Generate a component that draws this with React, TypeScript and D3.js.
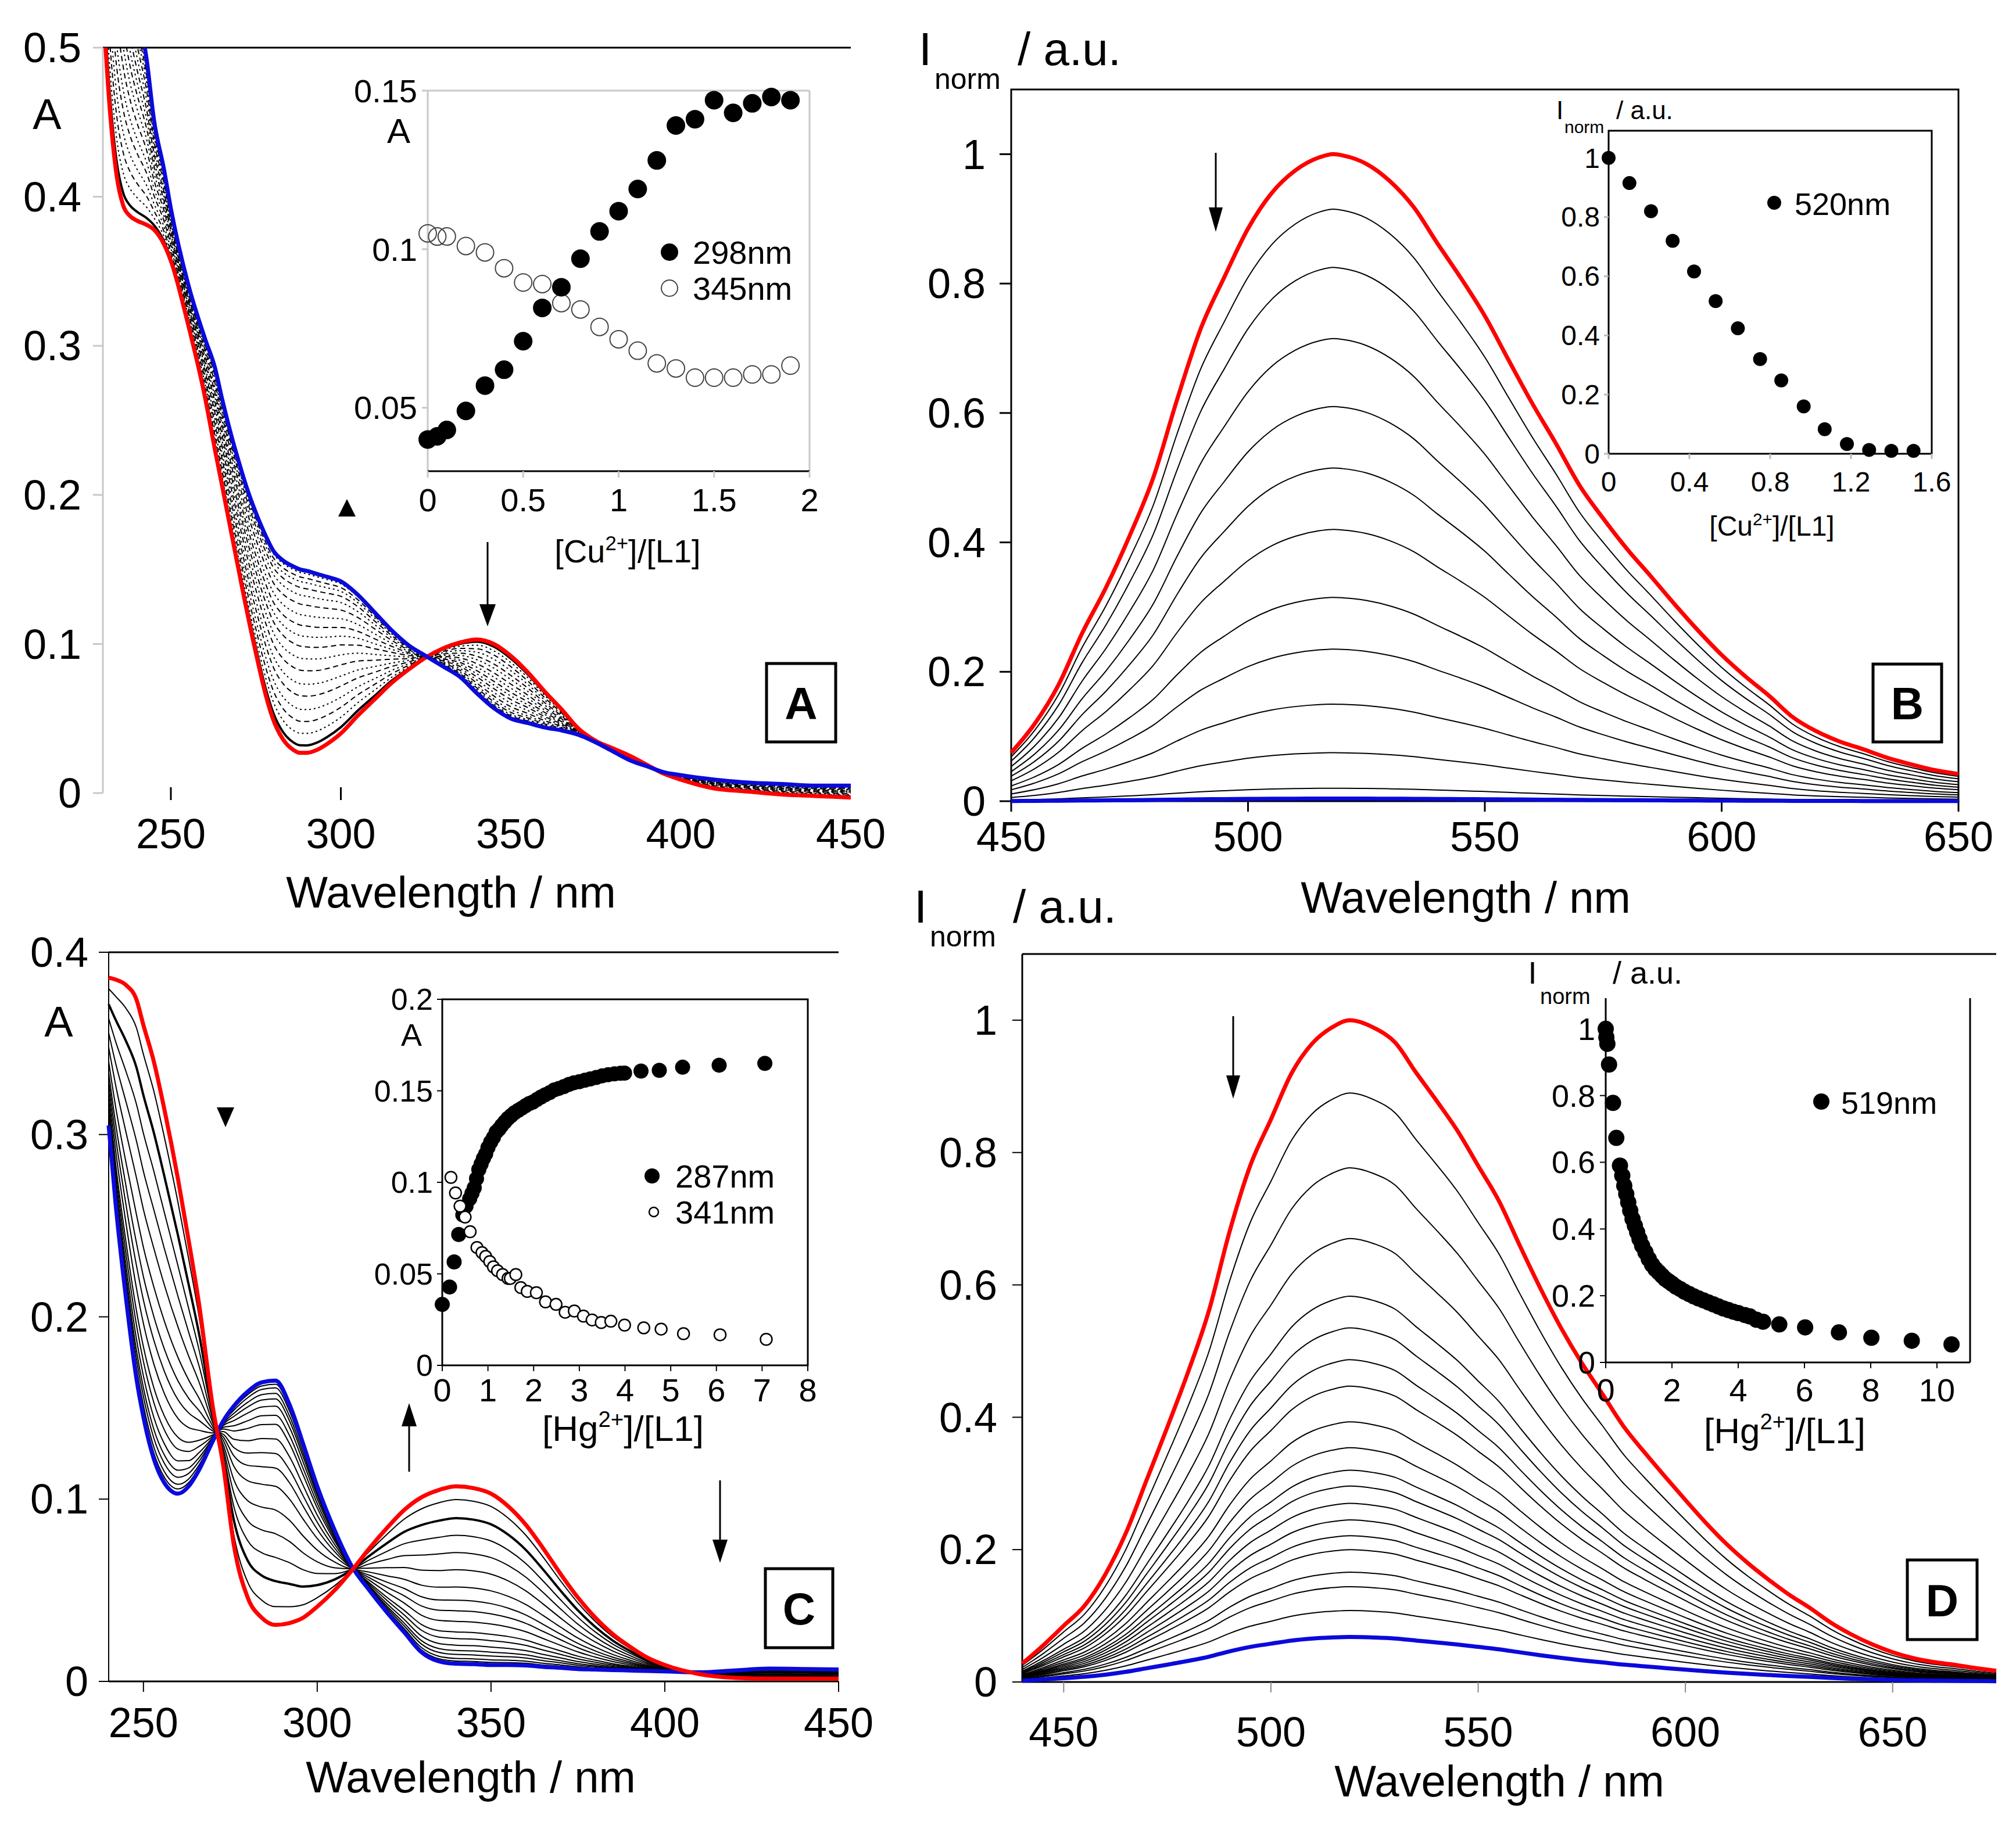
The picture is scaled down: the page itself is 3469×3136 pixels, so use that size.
import React from "react";
import * as d3 from "d3";

const FONT = '"Liberation Sans", Arial, Helvetica, sans-serif';

// ---------------- Panel A : absorbance, Cu2+ ----------------
const A_WL = [230, 232, 234, 236, 238, 240, 243, 245, 248, 250, 255, 260, 263, 265, 268, 270, 272, 275, 278, 280, 283, 286, 288, 290, 293, 296, 300, 305, 310, 315, 320, 325, 330, 335, 340, 345, 350, 355, 360, 365, 370, 375, 380, 385, 390, 395, 400, 410, 420, 430, 440, 450];
const A_RED = [0.53, 0.46, 0.415, 0.394, 0.387, 0.384, 0.381, 0.378, 0.368, 0.357, 0.315, 0.266, 0.23, 0.207, 0.172, 0.149, 0.126, 0.094, 0.065, 0.05, 0.036, 0.029, 0.027, 0.027, 0.029, 0.033, 0.04, 0.052, 0.063, 0.074, 0.083, 0.091, 0.097, 0.101, 0.103, 0.1, 0.092, 0.081, 0.068, 0.056, 0.043, 0.035, 0.03, 0.025, 0.019, 0.013, 0.009, 0.003, 0.001, -0.001, -0.002, -0.003];
const A_BLUE = [0.8, 0.72, 0.65, 0.6, 0.56, 0.53, 0.49, 0.452, 0.418, 0.392, 0.342, 0.305, 0.285, 0.265, 0.238, 0.222, 0.207, 0.188, 0.172, 0.163, 0.156, 0.152, 0.15, 0.149, 0.147, 0.145, 0.142, 0.133, 0.121, 0.109, 0.099, 0.092, 0.085, 0.078, 0.067, 0.057, 0.05, 0.047, 0.044, 0.042, 0.039, 0.034, 0.028, 0.022, 0.018, 0.014, 0.012, 0.009, 0.007, 0.006, 0.005, 0.005];
// absorbance of every recorded spectrum read at 290 nm (first = red, last = blue)
const A_AT290 = [0.027, 0.032, 0.04, 0.048, 0.056, 0.065, 0.073, 0.082, 0.09, 0.098, 0.105, 0.112, 0.119, 0.126, 0.132, 0.137, 0.141, 0.144, 0.147, 0.149];
const A_XTICKS = [250, 300, 350, 400, 450];
const A_YTICKS = [0, 0.1, 0.2, 0.3, 0.4, 0.5];
const A_YLABELS = ["0", "0.1", "0.2", "0.3", "0.4", "0.5"];

const IA_X = [0, 0.05, 0.1, 0.2, 0.3, 0.4, 0.5, 0.6, 0.7, 0.8, 0.9, 1.0, 1.1, 1.2, 1.3, 1.4, 1.5, 1.6, 1.7, 1.8, 1.9];
const IA_298 = [0.04, 0.041, 0.043, 0.049, 0.057, 0.062, 0.071, 0.0815, 0.088, 0.097, 0.1056, 0.112, 0.119, 0.128, 0.139, 0.141, 0.147, 0.143, 0.146, 0.148, 0.147];
const IA_345 = [0.105, 0.104, 0.104, 0.101, 0.099, 0.094, 0.0895, 0.089, 0.083, 0.081, 0.0755, 0.0716, 0.068, 0.064, 0.0624, 0.0595, 0.0595, 0.0595, 0.0605, 0.0605, 0.0633];
const IA_XTICKS = [0, 0.5, 1, 1.5, 2];
const IA_XLABELS = ["0", "0.5", "1", "1.5", "2"];
const IA_YTICKS = [0.05, 0.1, 0.15];
const IA_YLABELS = ["0.05", "0.1", "0.15"];

// ---------------- Panel B : emission, Cu2+ ----------------
const B_WL = [450, 455, 460, 465, 470, 475, 480, 485, 490, 495, 500, 505, 510, 515, 518, 520, 525, 530, 535, 540, 545, 550, 555, 560, 565, 570, 575, 580, 585, 590, 595, 600, 605, 610, 615, 620, 625, 630, 635, 640, 645, 650];
const B_RED = [0.075, 0.12, 0.18, 0.26, 0.33, 0.41, 0.5, 0.62, 0.73, 0.81, 0.885, 0.94, 0.975, 0.995, 1.0, 0.998, 0.985, 0.958, 0.918, 0.862, 0.808, 0.75, 0.682, 0.615, 0.553, 0.488, 0.437, 0.39, 0.348, 0.305, 0.264, 0.226, 0.193, 0.163, 0.13, 0.108, 0.092, 0.08, 0.067, 0.057, 0.048, 0.042];
// peak height of each spectrum (first = red, last = blue)
const B_PEAKS = [1, 0.915, 0.825, 0.715, 0.61, 0.515, 0.42, 0.315, 0.235, 0.15, 0.075, 0.02, 0.004];
const B_XTICKS = [450, 500, 550, 600, 650];
const B_YTICKS = [0, 0.2, 0.4, 0.6, 0.8, 1];
const B_YLABELS = ["0", "0.2", "0.4", "0.6", "0.8", "1"];

const IB_X = [0, 0.103, 0.21, 0.317, 0.423, 0.53, 0.64, 0.75, 0.855, 0.966, 1.07, 1.18, 1.29, 1.4, 1.51];
const IB_Y = [1.0, 0.915, 0.82, 0.72, 0.616, 0.516, 0.424, 0.32, 0.248, 0.16, 0.083, 0.033, 0.013, 0.01, 0.01];
const IB_XTICKS = [0, 0.4, 0.8, 1.2, 1.6];
const IB_XLABELS = ["0", "0.4", "0.8", "1.2", "1.6"];
const IB_YTICKS = [0, 0.2, 0.4, 0.6, 0.8, 1];
const IB_YLABELS = ["0", "0.2", "0.4", "0.6", "0.8", "1"];

// ---------------- Panel C : absorbance, Hg2+ ----------------
const C_WL = [240, 242, 245, 248, 250, 253, 256, 260, 263, 266, 270, 273, 276, 280, 284, 288, 292, 296, 300, 305, 310, 315, 320, 325, 330, 335, 340, 345, 350, 355, 360, 365, 370, 375, 380, 385, 390, 395, 400, 410, 420, 430, 440, 450];
const C_RED = [0.386, 0.385, 0.382, 0.374, 0.36, 0.34, 0.314, 0.275, 0.242, 0.207, 0.15, 0.118, 0.075, 0.046, 0.035, 0.031, 0.032, 0.035, 0.041, 0.05, 0.061, 0.073, 0.084, 0.094, 0.101, 0.105, 0.107, 0.106, 0.103, 0.096, 0.086, 0.073, 0.059, 0.046, 0.035, 0.026, 0.019, 0.013, 0.009, 0.004, 0.002, 0.0015, 0.0015, 0.0015];
const C_BLUE = [0.305, 0.262, 0.21, 0.166, 0.145, 0.122, 0.109, 0.103, 0.107, 0.116, 0.132, 0.143, 0.151, 0.159, 0.164, 0.165, 0.152, 0.13, 0.107, 0.083, 0.063, 0.05, 0.038, 0.027, 0.016, 0.011, 0.0097, 0.0095, 0.009, 0.009, 0.0088, 0.008, 0.0075, 0.0068, 0.0065, 0.0062, 0.006, 0.0057, 0.0055, 0.005, 0.006, 0.007, 0.0068, 0.0065];
// absorbance of every spectrum read at 288 nm (first = red, last = blue)
const C_AT288 = [0.031, 0.041, 0.055, 0.068, 0.081, 0.094, 0.107, 0.117, 0.125, 0.133, 0.141, 0.146, 0.151, 0.155, 0.158, 0.161, 0.163, 0.165];
const C_XTICKS = [250, 300, 350, 400, 450];
const C_YTICKS = [0, 0.1, 0.2, 0.3, 0.4];
const C_YLABELS = ["0", "0.1", "0.2", "0.3", "0.4"];

const IC_X287 = [0, 0.16, 0.26, 0.36, 0.45, 0.52, 0.6, 0.65, 0.7, 0.75, 0.8, 0.85, 0.9, 0.95, 1.0, 1.06, 1.12, 1.18, 1.24, 1.3, 1.37, 1.44, 1.51, 1.58, 1.66, 1.74, 1.82, 1.9, 1.98, 2.07, 2.16, 2.25, 2.35, 2.45, 2.55, 2.66, 2.77, 2.88, 3.0, 3.12, 3.24, 3.37, 3.5, 3.63, 3.77, 3.9, 3.99, 4.35, 4.75, 5.26, 6.06, 7.06];
const IC_Y287 = [0.0333, 0.0428, 0.0565, 0.0715, 0.0822, 0.087, 0.091, 0.094, 0.097, 0.102, 0.107, 0.11, 0.113, 0.1155, 0.119, 0.122, 0.1245, 0.1275, 0.129, 0.131, 0.133, 0.135, 0.1365, 0.138, 0.1393, 0.1405, 0.1418, 0.143, 0.1438, 0.1452, 0.1466, 0.1478, 0.149, 0.1505, 0.1513, 0.1523, 0.1535, 0.1544, 0.155, 0.1558, 0.1565, 0.1573, 0.1582, 0.1588, 0.1593, 0.1596, 0.1597, 0.1608, 0.1612, 0.1629, 0.164, 0.165];
const IC_X341 = [0.19, 0.29, 0.39, 0.5, 0.61, 0.76, 0.87, 0.95, 1.04, 1.12, 1.21, 1.32, 1.44, 1.49, 1.61, 1.72, 1.86, 2.06, 2.26, 2.49, 2.69, 2.89, 3.09, 3.28, 3.48, 3.69, 3.99, 4.41, 4.79, 5.28, 6.08, 7.09];
const IC_Y341 = [0.1027, 0.0942, 0.087, 0.081, 0.073, 0.0644, 0.0616, 0.0595, 0.0567, 0.0538, 0.0517, 0.0496, 0.0475, 0.0475, 0.0496, 0.0425, 0.0404, 0.0397, 0.0347, 0.0333, 0.029, 0.0297, 0.0269, 0.0248, 0.0234, 0.0241, 0.022, 0.0205, 0.0198, 0.0173, 0.0167, 0.0142];
const IC_XTICKS = [0, 1, 2, 3, 4, 5, 6, 7, 8];
const IC_YTICKS = [0, 0.05, 0.1, 0.15, 0.2];
const IC_YLABELS = ["0", "0.05", "0.1", "0.15", "0.2"];

// ---------------- Panel D : emission, Hg2+ ----------------
const D_WL = [440, 445, 450, 455, 460, 465, 470, 475, 480, 485, 490, 495, 500, 505, 510, 515, 519, 525, 530, 535, 540, 545, 550, 555, 560, 565, 570, 575, 580, 585, 590, 595, 600, 605, 610, 615, 620, 625, 630, 635, 640, 645, 650, 655, 660, 665, 670, 675];
const D_RED = [0.028, 0.055, 0.085, 0.115, 0.162, 0.225, 0.305, 0.385, 0.468, 0.56, 0.68, 0.78, 0.85, 0.92, 0.965, 0.99, 1.0, 0.988, 0.966, 0.921, 0.878, 0.833, 0.78, 0.727, 0.66, 0.595, 0.535, 0.482, 0.435, 0.387, 0.348, 0.311, 0.275, 0.24, 0.208, 0.18, 0.155, 0.132, 0.112, 0.09, 0.072, 0.057, 0.045, 0.036, 0.03, 0.026, 0.021, 0.017];
const D_PEAKS = [1, 0.89, 0.777, 0.67, 0.583, 0.535, 0.487, 0.447, 0.393, 0.354, 0.32, 0.296, 0.27, 0.245, 0.221, 0.2, 0.166, 0.144, 0.108, 0.068];
const D_XTICKS = [450, 500, 550, 600, 650];
const D_YTICKS = [0, 0.2, 0.4, 0.6, 0.8, 1];
const D_YLABELS = ["0", "0.2", "0.4", "0.6", "0.8", "1"];

const ID_X = [0, 0.02, 0.05, 0.1, 0.22, 0.32, 0.43, 0.5, 0.56, 0.62, 0.68, 0.74, 0.81, 0.88, 0.95, 1.02, 1.1, 1.2, 1.3, 1.4, 1.5, 1.6, 1.7, 1.8, 1.9, 2.0, 2.12, 2.25, 2.38, 2.52, 2.66, 2.8, 2.95, 3.1, 3.25, 3.4, 3.55, 3.7, 3.85, 4.0, 4.2, 4.35, 4.55, 4.75, 5.24, 6.02, 7.04, 8.02, 9.24, 10.44];
const ID_Y = [1.0, 0.975, 0.955, 0.893, 0.778, 0.673, 0.59, 0.56, 0.53, 0.505, 0.48, 0.455, 0.43, 0.41, 0.39, 0.37, 0.35, 0.33, 0.31, 0.293, 0.28, 0.27, 0.26, 0.25, 0.243, 0.236, 0.227, 0.22, 0.212, 0.205, 0.198, 0.192, 0.186, 0.18, 0.174, 0.168, 0.162, 0.157, 0.152, 0.148, 0.142, 0.138, 0.128, 0.122, 0.114, 0.105, 0.09, 0.074, 0.065, 0.054];
const ID_XTICKS = [0, 2, 4, 6, 8, 10];
const ID_YTICKS = [0, 0.2, 0.4, 0.6, 0.8, 1];
const ID_YLABELS = ["0", "0.2", "0.4", "0.6", "0.8", "1"];

type Pt = [number, number];

function mixCurves(wl: number[], red: number[], blue: number[], refWl: number, vals: number[]): Pt[][] {
  const k = wl.indexOf(refWl);
  const r0 = red[k], b0 = blue[k];
  return vals.map((v) => {
    const f = (v - r0) / (b0 - r0);
    return wl.map((w, i) => [w, red[i] * (1 - f) + blue[i] * f] as Pt);
  });
}

function scaleCurves(wl: number[], shape: number[], peaks: number[]): Pt[][] {
  return peaks.map((p) => wl.map((w, i) => [w, shape[i] * p] as Pt));
}

function Arrow({ x, y1, y2, head = 40, w = 28 }: { x: number; y1: number; y2: number; head?: number; w?: number }) {
  const dir = y2 > y1 ? 1 : -1;
  return (
    <g>
      <line x1={x} x2={x} y1={y1} y2={y2 - dir * head * 0.7} stroke="#000" strokeWidth={3} />
      <path d={`M${x - w / 2},${y2 - dir * head} L${x + w / 2},${y2 - dir * head} L${x},${y2} Z`} fill="#000" />
    </g>
  );
}

function LabelBox({ x0, y0, x1, y1, t }: { x0: number; y0: number; x1: number; y1: number; t: string }) {
  return (
    <g>
      <rect x={x0} y={y0} width={x1 - x0} height={y1 - y0} fill="#fff" stroke="#000" strokeWidth={5} />
      <text x={(x0 + x1) / 2} y={(y0 + y1) / 2} dy="0.36em" textAnchor="middle" fontWeight="bold" fontSize={78}>
        {t}
      </text>
    </g>
  );
}

function Sup({ base, sup, rest, fs }: { base: string; sup: string; rest: string; fs: number }) {
  return (
    <>
      <tspan>{base}</tspan>
      <tspan dy={-fs * 0.38} fontSize={fs * 0.62}>
        {sup}
      </tspan>
      <tspan dy={fs * 0.38}>{rest}</tspan>
    </>
  );
}

function PanelA() {
  const x = d3.scaleLinear().domain([230, 450]).range([177, 1464]);
  const y = d3.scaleLinear().domain([0, 0.5]).range([1365, 82]);
  const line = d3.line<Pt>().x((d) => x(d[0])).y((d) => y(d[1])).curve(d3.curveMonotoneX);
  const all = mixCurves(A_WL, A_RED, A_BLUE, 290, A_AT290);
  const mids = all.slice(1, -1);
  const red = A_WL.map((w, i) => [w, A_RED[i]] as Pt);
  const blue = A_WL.map((w, i) => [w, A_BLUE[i]] as Pt);

  const ix = d3.scaleLinear().domain([0, 2]).range([736, 1393]);
  const iy = d3.scaleLinear().domain([0.03, 0.15]).range([811, 156]);
  return (
    <g>
      <clipPath id="clipA">
        <rect x={177} y={82} width={1290} height={1320} />
      </clipPath>
      {/* axes */}
      <line x1={177} x2={1464} y1={y(0.5)} y2={y(0.5)} stroke="#000" strokeWidth={3} />
      <line x1={177} x2={177} y1={y(0.5)} y2={y(0)} stroke="#c8c8c8" strokeWidth={3} />
      {A_YTICKS.map((t, i) => (
        <g key={t}>
          <line x1={160} x2={177} y1={y(t)} y2={y(t)} stroke="#c8c8c8" strokeWidth={3} />
          <text x={140} y={y(t)} dy="0.35em" textAnchor="end" fontSize={72}>
            {A_YLABELS[i]}
          </text>
        </g>
      ))}
      {A_XTICKS.map((t) => (
        <g key={t}>
          {t <= 300 && <line x1={x(t)} x2={x(t)} y1={1355} y2={1377} stroke="#000" strokeWidth={3} />}
          <text x={x(t)} y={1460} textAnchor="middle" fontSize={72}>
            {t}
          </text>
        </g>
      ))}
      <text x={776} y={1562} textAnchor="middle" fontSize={76}>
        Wavelength / nm
      </text>
      <text x={81} y={222} textAnchor="middle" fontSize={74}>
        A
      </text>
      {/* curves */}
      <g clipPath="url(#clipA)" fill="none">
        {mids.map((c, i) => (
          <path
            key={i}
            d={line(c) || ""}
            stroke="#000"
            strokeWidth={i === 0 ? 4 : 2}
            strokeDasharray={i === 0 ? undefined : i % 2 === 1 ? "3,5" : "9,6"}
          />
        ))}
        <path d={line(red) || ""} stroke="#ff0000" strokeWidth={7} />
        <path d={line(blue) || ""} stroke="#0a0adc" strokeWidth={7} />
      </g>
      {/* markers */}
      <path d="M597,859 L582,889 L612,889 Z" fill="#000" />
      <Arrow x={839} y1={933} y2={1078} head={38} w={28} />
      <LabelBox x0={1319} y0={1142} x1={1438} y1={1277} t="A" />

      {/* inset */}
      <line x1={736} x2={1393} y1={156} y2={156} stroke="#c8c8c8" strokeWidth={3} />
      <line x1={736} x2={736} y1={156} y2={811} stroke="#c8c8c8" strokeWidth={3} />
      <line x1={1393} x2={1393} y1={156} y2={811} stroke="#c8c8c8" strokeWidth={3} />
      <line x1={736} x2={1393} y1={811} y2={811} stroke="#000" strokeWidth={3} />
      {IA_YTICKS.map((t, i) => (
        <g key={t}>
          <line x1={726} x2={736} y1={iy(t)} y2={iy(t)} stroke="#c8c8c8" strokeWidth={3} />
          <text x={718} y={iy(t)} dy="0.35em" textAnchor="end" fontSize={56}>
            {IA_YLABELS[i]}
          </text>
        </g>
      ))}
      {IA_XTICKS.map((t, i) => (
        <g key={t}>
          <line x1={ix(t)} x2={ix(t)} y1={811} y2={822} stroke="#c8c8c8" strokeWidth={3} />
          <text x={ix(t)} y={880} textAnchor="middle" fontSize={56}>
            {IA_XLABELS[i]}
          </text>
        </g>
      ))}
      <text x={686} y={246} textAnchor="middle" fontSize={60}>
        A
      </text>
      <text x={1080} y={968} textAnchor="middle" fontSize={56}>
        <Sup base="[Cu" sup="2+" rest="]/[L1]" fs={56} />
      </text>
      {IA_X.map((v, i) => (
        <circle key={"o" + i} cx={ix(v)} cy={iy(IA_345[i])} r={15} fill="none" stroke="#444" strokeWidth={2} />
      ))}
      {IA_X.map((v, i) => (
        <circle key={"f" + i} cx={ix(v)} cy={iy(IA_298[i])} r={16} fill="#000" />
      ))}
      <circle cx={1152} cy={434} r={15} fill="#000" />
      <text x={1192} y={454} fontSize={56}>
        298nm
      </text>
      <circle cx={1152} cy={496} r={14} fill="none" stroke="#444" strokeWidth={2} />
      <text x={1192} y={516} fontSize={56}>
        345nm
      </text>
    </g>
  );
}

function PanelB() {
  const x = d3.scaleLinear().domain([450, 650]).range([1740, 3370]);
  const y = d3.scaleLinear().domain([0, 1.1]).range([1379, 154]);
  const line = d3.line<Pt>().x((d) => x(d[0])).y((d) => y(d[1])).curve(d3.curveMonotoneX);
  const curves = scaleCurves(B_WL, B_RED, B_PEAKS);
  const n = curves.length;
  const ix = d3.scaleLinear().domain([0, 1.6]).range([2768, 3324]);
  const iy = d3.scaleLinear().domain([0, 1.092]).range([781, 225]);
  return (
    <g>
      <rect x={1740} y={154} width={1630} height={1225} fill="none" stroke="#000" strokeWidth={3} />
      {B_YTICKS.map((t, i) => (
        <g key={t}>
          <line x1={1720} x2={1740} y1={y(t)} y2={y(t)} stroke="#000" strokeWidth={3} />
          <text x={1696} y={y(t)} dy="0.35em" textAnchor="end" fontSize={72}>
            {B_YLABELS[i]}
          </text>
        </g>
      ))}
      {B_XTICKS.map((t) => (
        <g key={t}>
          <line x1={x(t)} x2={x(t)} y1={1379} y2={1397} stroke="#000" strokeWidth={3} />
          <text x={x(t)} y={1465} textAnchor="middle" fontSize={72}>
            {t}
          </text>
        </g>
      ))}
      <text x={2522} y={1571} textAnchor="middle" fontSize={76}>
        Wavelength / nm
      </text>
      <text x={1592} y={112} textAnchor="middle" fontSize={80}>
        I
      </text>
      <text x={1608} y={153} fontSize={50}>
        norm
      </text>
      <text x={1751} y={112} fontSize={80}>
        / a.u.
      </text>
      <g fill="none">
        {curves.slice(1, -1).map((c, i) => (
          <path key={i} d={line(c) || ""} stroke="#000" strokeWidth={2} />
        ))}
        <path d={line(curves[n - 1]) || ""} stroke="#0a0adc" strokeWidth={7} />
        <path d={line(curves[0]) || ""} stroke="#ff0000" strokeWidth={7} />
      </g>
      <Arrow x={2092} y1={263} y2={399} head={42} w={24} />
      <LabelBox x0={3223} y0={1143} x1={3341} y1={1277} t="B" />

      {/* inset */}
      <rect x={2768} y={225} width={556} height={556} fill="none" stroke="#000" strokeWidth={3} />
      {IB_YTICKS.map((t, i) => (
        <g key={t}>
          <line x1={2760} x2={2768} y1={iy(t)} y2={iy(t)} stroke="#bbb" strokeWidth={3} />
          <text x={2753} y={iy(t)} dy="0.35em" textAnchor="end" fontSize={48}>
            {IB_YLABELS[i]}
          </text>
        </g>
      ))}
      {IB_XTICKS.map((t, i) => (
        <g key={t}>
          <line x1={ix(t)} x2={ix(t)} y1={781} y2={790} stroke="#bbb" strokeWidth={3} />
          <text x={ix(t)} y={846} textAnchor="middle" fontSize={48}>
            {IB_XLABELS[i]}
          </text>
        </g>
      ))}
      <text x={3049} y={922} textAnchor="middle" fontSize={48}>
        <Sup base="[Cu" sup="2+" rest="]/[L1]" fs={48} />
      </text>
      <text x={2684} y={205} textAnchor="middle" fontSize={44}>
        I
      </text>
      <text x={2692} y={229} fontSize={30}>
        norm
      </text>
      <text x={2781} y={205} fontSize={44}>
        / a.u.
      </text>
      {IB_X.map((v, i) => (
        <circle key={i} cx={ix(v)} cy={iy(IB_Y[i])} r={12} fill="#000" />
      ))}
      <circle cx={3053} cy={349} r={12} fill="#000" />
      <text x={3088} y={370} fontSize={54}>
        520nm
      </text>
    </g>
  );
}

function PanelC() {
  const x = d3.scaleLinear().domain([240, 450]).range([187, 1443]);
  const y = d3.scaleLinear().domain([0, 0.4]).range([2894, 1639]);
  const line = d3.line<Pt>().x((d) => x(d[0])).y((d) => y(d[1])).curve(d3.curveMonotoneX);
  const all = mixCurves(C_WL, C_RED, C_BLUE, 288, C_AT288);
  const mids = all.slice(1, -1);
  const red = C_WL.map((w, i) => [w, C_RED[i]] as Pt);
  const blue = C_WL.map((w, i) => [w, C_BLUE[i]] as Pt);
  const ix = d3.scaleLinear().domain([0, 8]).range([761, 1390]);
  const iy = d3.scaleLinear().domain([0, 0.2]).range([2350, 1720]);
  return (
    <g>
      <line x1={187} x2={1443} y1={1639} y2={1639} stroke="#000" strokeWidth={3} />
      <line x1={187} x2={187} y1={1639} y2={2894} stroke="#000" strokeWidth={2} />
      <line x1={187} x2={1443} y1={2894} y2={2894} stroke="#000" strokeWidth={3} />
      {C_YTICKS.map((t, i) => (
        <g key={t}>
          <line x1={170} x2={187} y1={y(t)} y2={y(t)} stroke="#000" strokeWidth={2} />
          <text x={152} y={y(t)} dy="0.35em" textAnchor="end" fontSize={72}>
            {C_YLABELS[i]}
          </text>
        </g>
      ))}
      {C_XTICKS.map((t) => (
        <g key={t}>
          <line x1={x(t)} x2={x(t)} y1={2894} y2={2912} stroke="#000" strokeWidth={2} />
          <text x={x(t)} y={2990} textAnchor="middle" fontSize={72}>
            {t}
          </text>
        </g>
      ))}
      <text x={810} y={3085} textAnchor="middle" fontSize={76}>
        Wavelength / nm
      </text>
      <text x={101} y={1784} textAnchor="middle" fontSize={74}>
        A
      </text>
      <g fill="none">
        {mids.map((c, i) => (
          <path key={i} d={line(c) || ""} stroke="#000" strokeWidth={i === 1 ? 4 : 2} />
        ))}
        <path d={line(blue) || ""} stroke="#0a0adc" strokeWidth={7} />
        <path d={line(red) || ""} stroke="#ff0000" strokeWidth={7} />
      </g>
      <path d="M373,1906 L403,1906 L388,1940 Z" fill="#000" />
      <Arrow x={704} y1={2533} y2={2415} head={40} w={26} />
      <Arrow x={1239} y1={2548} y2={2690} head={40} w={26} />
      <LabelBox x0={1317} y0={2700} x1={1433} y1={2836} t="C" />

      {/* inset */}
      <rect x={761} y={1720} width={629} height={630} fill="none" stroke="#000" strokeWidth={3} />
      {IC_YTICKS.map((t, i) => (
        <g key={t}>
          <line x1={752} x2={761} y1={iy(t)} y2={iy(t)} stroke="#000" strokeWidth={2} />
          <text x={745} y={iy(t)} dy="0.35em" textAnchor="end" fontSize={52}>
            {IC_YLABELS[i]}
          </text>
        </g>
      ))}
      {IC_XTICKS.map((t) => (
        <g key={t}>
          <line x1={ix(t)} x2={ix(t)} y1={2350} y2={2360} stroke="#000" strokeWidth={2} />
          <text x={ix(t)} y={2412} textAnchor="middle" fontSize={56}>
            {t}
          </text>
        </g>
      ))}
      <text x={1072} y={2480} textAnchor="middle" fontSize={62}>
        <Sup base="[Hg" sup="2+" rest="]/[L1]" fs={62} />
      </text>
      <text x={708} y={1800} textAnchor="middle" fontSize={54}>
        A
      </text>
      {IC_X287.map((v, i) => (
        <circle key={"f" + i} cx={ix(v)} cy={iy(IC_Y287[i])} r={13} fill="#000" />
      ))}
      {IC_X341.map((v, i) => (
        <circle key={"o" + i} cx={ix(v)} cy={iy(IC_Y341[i])} r={10} fill="#fff" stroke="#000" strokeWidth={2.5} />
      ))}
      <circle cx={1122} cy={2024} r={13} fill="#000" />
      <text x={1162} y={2044} fontSize={56}>
        287nm
      </text>
      <circle cx={1125} cy={2086} r={8} fill="none" stroke="#000" strokeWidth={2.5} />
      <text x={1162} y={2106} fontSize={56}>
        341nm
      </text>
    </g>
  );
}

function PanelD() {
  const x = d3.scaleLinear().domain([440, 675]).range([1759, 3435]);
  const y = d3.scaleLinear().domain([0, 1.1]).range([2895, 1642]);
  const line = d3.line<Pt>().x((d) => x(d[0])).y((d) => y(d[1])).curve(d3.curveMonotoneX);
  const curves = scaleCurves(D_WL, D_RED, D_PEAKS);
  const n = curves.length;
  const ix = d3.scaleLinear().domain([0, 11]).range([2763, 3390]);
  const iy = d3.scaleLinear().domain([0, 1.092]).range([2345, 1718]);
  return (
    <g>
      <line x1={1759} x2={3435} y1={1642} y2={1642} stroke="#000" strokeWidth={3} />
      <line x1={1759} x2={1759} y1={1642} y2={2895} stroke="#000" strokeWidth={3} />
      <line x1={1759} x2={3435} y1={2895} y2={2895} stroke="#000" strokeWidth={3} />
      {D_YTICKS.map((t, i) => (
        <g key={t}>
          <line x1={1742} x2={1759} y1={y(t)} y2={y(t)} stroke="#000" strokeWidth={2} />
          <text x={1716} y={y(t)} dy="0.35em" textAnchor="end" fontSize={72}>
            {D_YLABELS[i]}
          </text>
        </g>
      ))}
      {D_XTICKS.map((t) => (
        <g key={t}>
          <line x1={x(t)} x2={x(t)} y1={2895} y2={2913} stroke="#888" strokeWidth={2} />
          <text x={x(t)} y={3006} textAnchor="middle" fontSize={72}>
            {t}
          </text>
        </g>
      ))}
      <text x={2580} y={3092} textAnchor="middle" fontSize={76}>
        Wavelength / nm
      </text>
      <text x={1584} y={1588} textAnchor="middle" fontSize={80}>
        I
      </text>
      <text x={1600} y={1629} fontSize={50}>
        norm
      </text>
      <text x={1743} y={1588} fontSize={80}>
        / a.u.
      </text>
      <g fill="none">
        {curves.slice(1, -1).map((c, i) => (
          <path key={i} d={line(c) || ""} stroke="#000" strokeWidth={2} />
        ))}
        <path d={line(curves[n - 1]) || ""} stroke="#0a0adc" strokeWidth={7} />
        <path d={line(curves[0]) || ""} stroke="#ff0000" strokeWidth={7} />
      </g>
      <Arrow x={2122} y1={1749} y2={1891} head={40} w={24} />
      <LabelBox x0={3282} y0={2685} x1={3402} y1={2822} t="D" />

      {/* inset */}
      <line x1={2763} x2={2763} y1={1718} y2={2345} stroke="#000" strokeWidth={3} />
      <line x1={3390} x2={3390} y1={1718} y2={2345} stroke="#000" strokeWidth={3} />
      <line x1={2763} x2={3390} y1={2345} y2={2345} stroke="#000" strokeWidth={3} />
      {ID_YTICKS.map((t, i) => (
        <g key={t}>
          <line x1={2753} x2={2763} y1={iy(t)} y2={iy(t)} stroke="#000" strokeWidth={2} />
          <text x={2745} y={iy(t)} dy="0.35em" textAnchor="end" fontSize={54}>
            {ID_YLABELS[i]}
          </text>
        </g>
      ))}
      {ID_XTICKS.map((t) => (
        <g key={t}>
          <line x1={ix(t)} x2={ix(t)} y1={2345} y2={2355} stroke="#000" strokeWidth={2} />
          <text x={ix(t)} y={2412} textAnchor="middle" fontSize={56}>
            {t}
          </text>
        </g>
      ))}
      <text x={3071} y={2484} textAnchor="middle" fontSize={62}>
        <Sup base="[Hg" sup="2+" rest="]/[L1]" fs={62} />
      </text>
      <text x={2637} y={1693} textAnchor="middle" fontSize={54}>
        I
      </text>
      <text x={2650} y={1728} fontSize={38}>
        norm
      </text>
      <text x={2775} y={1693} fontSize={54}>
        / a.u.
      </text>
      {ID_X.map((v, i) => (
        <circle key={i} cx={ix(v)} cy={iy(ID_Y[i])} r={14} fill="#000" />
      ))}
      <circle cx={3134} cy={1896} r={14} fill="#000" />
      <text x={3168} y={1917} fontSize={54}>
        519nm
      </text>
    </g>
  );
}

export default function App() {
  return (
    <svg
      width={3469}
      height={3136}
      viewBox="0 0 3469 3136"
      style={{ position: "absolute", left: 0, top: 0, background: "#fff" }}
      fontFamily={FONT}
    >
      <rect width={3469} height={3136} fill="#fff" />
      <PanelA />
      <PanelB />
      <PanelC />
      <PanelD />
    </svg>
  );
}
